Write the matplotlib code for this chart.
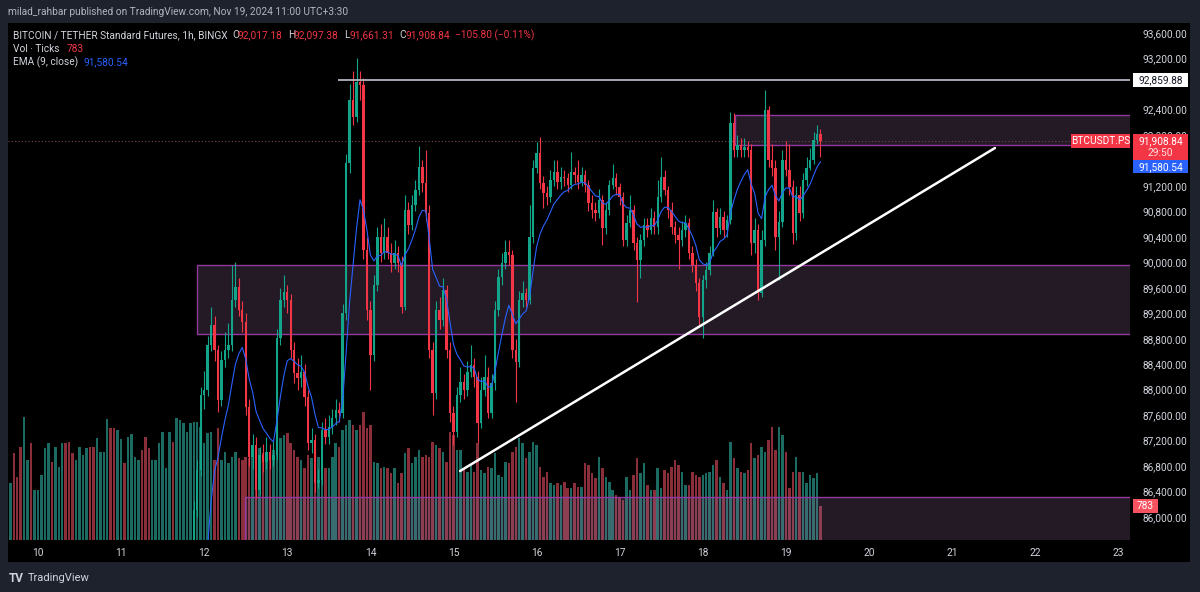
import numpy as np
import matplotlib
matplotlib.use('Agg')
import matplotlib.pyplot as plt
from matplotlib.patches import Rectangle
from matplotlib.transforms import IdentityTransform

plt.rcParams['font.family'] = ['Roboto', 'DejaVu Sans']

# ---- data (hour index counted from Nov 10 00:00) ----
first_hour = 45          # first candle that is inside the price range
first_open = 85560
close = [
    86110, 86740, 87920, 88000, 88700, 89020, 88620, 87840, 88470, 88620, 88700, 89410, 89610, 89250, 89060, 87730,
    86940, 87130, 86430, 86980, 86870, 87020, 86900, 86980, 88810, 89410, 89530, 89410, 88620, 88260, 88180, 88280,
    87890, 87160, 87210, 86540, 86580, 87370, 87260, 87410, 87560, 87680, 87630, 89200, 91560, 92550, 92280, 92830,
    92780, 90190, 89250, 88550, 89640, 90400, 90150, 90400, 90150, 89990, 90150, 89990, 89300, 90820, 90590, 90900,
    91140, 91500, 91250, 90770, 88620, 87950, 89250, 89090, 89570, 88620, 87630, 87340, 87920, 88120, 88000, 88280,
    88390, 88200, 87480, 88000, 88200, 87630, 88110, 89250, 89770, 89990, 90160, 90120, 88620, 88440, 89410, 89520,
    89410, 90400, 91480, 91720, 91250, 91090, 91030, 91290, 91420, 91260, 91340, 91320, 91210, 91420, 91370, 91260,
    91370, 91210, 90930, 90820, 90770, 90980, 90540, 90820, 91210, 91320, 91180, 91030, 90350, 90620, 90820, 90300,
    90040, 90350, 90590, 90510, 90700, 90550, 91030, 91340, 91140, 90820, 90550, 90430, 90350, 90510, 90620, 90150,
    89960, 89680, 89140, 89720, 89880, 90150, 90790, 90540, 90710, 90510, 90660, 92190, 91760, 91840, 91760, 91810,
    91760, 90300, 90510, 89520, 90350, 92390, 91610, 91480, 90400, 90630, 91610, 91450, 91180, 90460, 91060, 90770,
    91290, 91480, 91610, 91920, 92017.18, 91908.84,
]
high = [
    86250, 86900, 88050, 88300, 88850, 89300, 89150, 88700, 88600, 88900, 89050, 89950, 90000, 89750, 89400, 89200,
    87850, 87300, 87250, 87100, 87150, 87250, 87150, 87200, 88950, 89600, 89800, 89650, 89500, 88750, 88500, 88550,
    88400, 88000, 87400, 87300, 86750, 87500, 87550, 87600, 87700, 87850, 87800, 89350, 91700, 92800, 93000, 93210,
    93000, 92900, 90400, 89400, 89800, 90550, 90600, 90700, 90550, 90300, 90350, 90250, 90100, 91050, 90950, 91050,
    91300, 91820, 91600, 91760, 90900, 88750, 89400, 89450, 89750, 89650, 88750, 87750, 88050, 88350, 88250, 88450,
    88700, 88500, 88300, 88200, 88550, 88350, 88250, 89400, 89900, 90150, 90350, 90350, 90200, 88800, 89550, 89700,
    89600, 90900, 91600, 91890, 91960, 91350, 91200, 91450, 91600, 91600, 91500, 91450, 91400, 91730, 91500, 91600,
    91500, 91450, 91300, 91050, 90950, 91150, 91050, 90950, 91300, 91550, 91400, 91250, 91100, 90750, 91050, 90900,
    90400, 90450, 90700, 90700, 90850, 90800, 91300, 91650, 91450, 91200, 90950, 90650, 90550, 90650, 90750, 90700,
    90250, 90050, 89750, 89800, 90000, 90250, 90980, 90850, 90850, 90800, 90750, 92360, 92350, 92000, 91950, 91950,
    91900, 91850, 90700, 90600, 90500, 92700, 92450, 91850, 91600, 90800, 91760, 91900, 91850, 91300, 91200, 91200,
    91400, 91650, 91800, 92050, 92150, 92097.38,
]
low = [
    85300, 86000, 86650, 87700, 87900, 88600, 88450, 87650, 87750, 88350, 88500, 88600, 89300, 89150, 88900, 87600,
    86800, 86750, 86300, 86350, 86700, 86750, 86750, 86800, 86900, 88700, 89300, 89200, 88500, 88100, 88000, 88050,
    87750, 87050, 87000, 86400, 86450, 86500, 87150, 87150, 87300, 87450, 87500, 87550, 89100, 91400, 92150, 92200,
    92550, 90050, 89100, 87990, 88450, 89550, 90000, 90050, 90050, 89850, 89900, 89850, 89200, 89250, 90450, 90500,
    90800, 91050, 91100, 90650, 88500, 87610, 87850, 88950, 89000, 88500, 87500, 87130, 87250, 87800, 87850, 87900,
    88200, 88050, 87160, 87400, 87900, 87550, 87550, 88000, 89150, 89650, 89900, 89950, 88500, 87810, 88350, 89300,
    89300, 89350, 90300, 91400, 91150, 90850, 90900, 90950, 91200, 91150, 91150, 91200, 91100, 91150, 91250, 91150,
    91200, 91100, 90800, 90700, 90650, 90700, 90270, 90450, 90750, 91150, 91050, 90900, 90250, 90250, 90550, 90200,
    89380, 89750, 90250, 90400, 90450, 90450, 90450, 90950, 91050, 90700, 90450, 90300, 89900, 90250, 90400, 90050,
    89850, 89550, 89000, 88810, 89600, 89800, 90100, 90400, 90450, 90400, 90400, 90600, 91650, 91650, 91650, 91650,
    91650, 90110, 90150, 89410, 89450, 90250, 91500, 91350, 90190, 89720, 90550, 91350, 91050, 90280, 90350, 90650,
    90700, 91200, 91450, 91550, 91850, 91661.31,
]

# volume (ticks) starts earlier than the visible candles
vol_first_hour = -8
vol_early = [
    1311, 2001, 1449, 2139, 2829, 1840, 2231, 1150, 1150, 1495, 2116, 2231, 1794, 2139, 1679, 2231,
    2231, 2254, 2001, 1840, 2139, 1955, 2116, 2139, 2139, 2346, 2024, 2024, 2783, 2576, 2576, 2530,
    2323, 1771, 2369, 2438, 1909, 1840, 2070, 2369, 2116, 1840, 1840, 2231, 2484, 1656, 2484, 2254,
    2806, 2760, 2691, 2484, 2691,
]
vol_early_dir = "grrrggrgggggrgggrrrggggrr" + "ggggrrggrggggrrrggggggrggggg"
volume = [
    2714, 2714, 2599, 2231, 2461, 2484, 1840, 2576, 1840, 2024, 1771, 1909, 2024, 1886, 1840, 1909,
    1886, 1909, 1840, 2116, 2001, 1886, 1909, 2070, 2185, 2346, 2415, 2461, 2231, 2070, 1909, 1840,
    1656, 1955, 1886, 1679, 1909, 2001, 1656, 1656, 1909, 2231, 2139, 2530, 2645, 2760, 2645, 2530,
    2645, 2944, 2576, 2645, 1794, 1771, 1656, 1679, 1656, 1541, 1656, 1311, 1541, 2001, 2116, 1771,
    1909, 2070, 1909, 1955, 1909, 2254, 2185, 2116, 2024, 1794, 2484, 2415, 2070, 2070, 1656, 1564,
    1725, 1564, 2231, 1610, 1541, 1679, 1656, 2001, 1495, 1449, 1794, 1771, 2024, 2139, 2346, 2231,
    1886, 2024, 2254, 2185, 1679, 1449, 1564, 1311, 1265, 1311, 1265, 1334, 1196, 1196, 1311, 1219,
    1219, 1771, 1725, 1541, 1426, 1909, 1656, 1449, 1334, 1150, 1035, 989, 920, 1449, 1150, 1495,
    1886, 1541, 1771, 1265, 1150, 1150, 1656, 1196, 1610, 1541, 1679, 1840, 1725, 1564, 1265, 1265,
    1564, 1495, 1449, 1495, 1541, 1564, 1725, 1840, 1449, 1311, 1150, 2254, 1886, 1656, 1564, 1541,
    1610, 2231, 1886, 1955, 2139, 2024, 2300, 2599, 2070, 2599, 2415, 2024, 1196, 1564, 1909, 1564,
    1564, 1311, 1495, 1426, 1541, 783,
]
ema_seed = 81000

# drawings on the chart: (start hour, low price, high price)
zones = [(45.9, 88870, 89960), (201.3, 91842, 92313), (59.8, 80000, 86315)]
hline_start, hline_price = 86.6, 92859.88
trend_h = [121.9, 276.4]
trend_p = [86723, 91795]

days = list(range(10, 24))
# 92,800 and 91,600 are hidden behind the price tags
price_ticks = [v for v in range(86000, 93601, 400) if v not in (92800, 91600)]

GREEN, RED = '#13a58a', '#f23645'
VGREEN, VRED = '#1b6b62', '#8a2f3a'
TXT = '#d1d4dc'
FS = 7.25

# ---- figure ----
W, H = 1200, 592
fig = plt.figure(figsize=(W / 100, H / 100), dpi=100)
fig.patch.set_facecolor('#1e222d')

def frect(x0, y0, x1, y1):
    return [x0 / W, 1 - y1 / H, (x1 - x0) / W, (y1 - y0) / H]

fig.add_artist(Rectangle((8 / W, 1 - 562 / H), (1190 - 8) / W, (562 - 23) / H,
                         transform=fig.transFigure, facecolor='black', edgecolor='none', zorder=-5))

ax_v = fig.add_axes(frect(8, 25, 1130, 540), zorder=1)
ax = fig.add_axes(frect(8, 25, 1130, 540), zorder=2)
for a in (ax_v, ax):
    a.set_facecolor('none')
    for s in a.spines.values():
        s.set_visible(False)
xlim = (-8.66, 315.4)
ax.set_xlim(xlim)
ax_v.set_xlim(xlim)
ax.set_ylim(85640, 93726)
ax_v.set_ylim(0, 11866)
ax_v.axis('off')

# volume
close = np.array(close, dtype=float)
opens = np.concatenate([[first_open], close[:-1]])
high = np.array(high, dtype=float)
low = np.array(low, dtype=float)
hours = np.arange(first_hour, first_hour + len(close))
up = close >= opens

vol_all = list(vol_early) + list(volume)
vh = np.arange(vol_first_hour, vol_first_hour + len(vol_all))
vcol = [VGREEN if d == 'g' else VRED for d in vol_early_dir] + [VGREEN if u else VRED for u in up]
ax_v.bar(vh, vol_all, width=0.72, color=vcol, linewidth=0)

# zones
for h0, p0, p1 in zones:
    ax.add_patch(Rectangle((h0, p0), 400 - h0, p1 - p0, facecolor=(0.58, 0.44, 0.64, 0.24),
                           edgecolor='#93389f', linewidth=1.0, zorder=1))

# candles
ccol = np.where(up, GREEN, RED)
ax.vlines(hours, low, high, colors=ccol, linewidth=0.8, zorder=3)
body_h = np.maximum(np.abs(close - opens), 12)
ax.bar(hours, body_h, bottom=np.minimum(close, opens), width=0.7, color=ccol, linewidth=0, zorder=4)

# EMA 9
ema = []
e = ema_seed
for c in close:
    e = e + (c - e) * 2 / 10
    ema.append(e)
ax.plot(hours, ema, color='#2962ff', linewidth=0.8, zorder=5)

# lines
ax.hlines(hline_price, hline_start, 400, color='#b2b5be', linewidth=1.3, zorder=5)
ax.plot(trend_h, trend_p, color='white', linewidth=1.8, zorder=6, solid_capstyle='round')
ax.axhline(close[-1], color='#7c4650', linewidth=0.8, linestyle=(0, (1, 2)), zorder=2)

# axes ticks
ax.yaxis.tick_right()
ax.set_yticks(price_ticks)
ax.set_yticklabels([f'{v:,.2f}' for v in price_ticks])
ax.set_xticks([24 * (d - 10) for d in days])
ax.set_xticklabels([str(d) for d in days])
ax.tick_params(axis='y', length=0, labelcolor=TXT, labelsize=FS, pad=9)
ax.tick_params(axis='x', length=0, labelcolor=TXT, labelsize=FS, pad=6)

# ---- labels in pixel space ----
fig.canvas.draw()
PX = IdentityTransform()

def ypix(a, v):
    return a.transData.transform((0, v))[1]

def tag(x0, x1, yc, hgt, fc, text, tc):
    fig.add_artist(Rectangle((x0, yc - hgt / 2), x1 - x0, hgt, transform=PX,
                             facecolor=fc, edgecolor='none', zorder=10))
    fig.text((x0 + x1) / 2, yc, text, transform=PX, ha='center', va='center',
             color=tc, fontsize=FS, zorder=11)

def ttext(x, ytop, s, color, size=FS, **kw):
    fig.text(x, H - ytop, s, transform=PX, ha='left', va='center', color=color, fontsize=size, zorder=11, **kw)

tag(1133, 1188, ypix(ax, hline_price), 14, '#ffffff', '92,859.88', '#131722')
yc = ypix(ax, close[-1])
fig.add_artist(Rectangle((1133, yc - 20), 55, 27, transform=PX, facecolor=RED, edgecolor='none', zorder=10))
fig.text(1160.5, yc, '91,908.84', transform=PX, ha='center', va='center', color='white', fontsize=FS, zorder=11)
fig.text(1160.5, yc - 12, '29:50', transform=PX, ha='center', va='center', color='#ffdde0', fontsize=FS, zorder=11)
tag(1071, 1130, yc, 14, RED, 'BTCUSDT.PS', 'white')
tag(1133, 1188, yc - 26, 13, '#2962ff', '91,580.54', 'white')
tag(1133, 1158, ypix(ax_v, volume[-1]), 14, '#f7525f', '783', 'white')

# header and legend
ttext(8, 12, 'milad_rahbar published on TradingView.com, Nov 19, 2024 11:00 UTC+3:30', '#b2b5be')
ttext(13, 35, 'BITCOIN / TETHER Standard Futures, 1h, BINGX', TXT)
for x, letter, val in [(232, 'O', '92,017.18'), (288, 'H', '92,097.38'), (344, 'L', '91,661.31'), (399, 'C', '91,908.84')]:
    ttext(x, 35, letter, TXT)
    ttext(x + 6, 35, val, RED)
ttext(455, 35, '\u2212105.80 (\u22120.11%)', RED)
ttext(13, 49, 'Vol \u00b7 Ticks', TXT)
ttext(67, 49, '783', RED)
ttext(13, 62, 'EMA (9, close)', TXT)
ttext(83, 62, '91,580.54', '#2962ff')

# footer logo
ttext(9, 578, 'TV', TXT, 8.5, fontweight='bold')
ttext(28, 578, 'TradingView', TXT, 8)

fig.savefig('out.png', dpi=100, facecolor=fig.get_facecolor())
